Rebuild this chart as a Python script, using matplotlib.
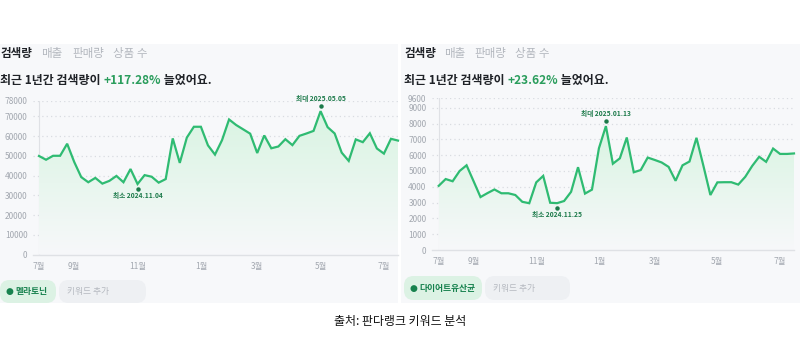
import numpy as np
import matplotlib
matplotlib.use("Agg")
import matplotlib.pyplot as plt
import matplotlib.transforms as mtransforms
from matplotlib.patches import Rectangle, FancyBboxPatch
from matplotlib.colors import LinearSegmentedColormap

plt.rcParams['font.family'] = ['Noto Sans CJK KR', 'DejaVu Sans']

# ---------------- data ----------------
month_labels = ["7월", "9월", "11월", "1월", "3월", "5월", "7월"]
month_tick_idx = [0, 5, 14, 23, 31, 40, 49]   # weekly index (week 0 = 2024-07-29)

left_values = [50000, 48100, 50100, 50100, 56200, 47000, 39300, 36700, 38900, 36000,
               37400, 39900, 36700, 43400, 35800, 40300, 39500, 36500, 38300, 58900,
               46500, 59300, 64800, 64800, 55400, 50700, 58000, 68500, 65700, 63500,
               61300, 51500, 60400, 53900, 54800, 58500, 55500, 60200, 61400, 62700,
               72700, 64600, 61400, 51700, 47500, 58400, 57000, 61500, 53800, 51200,
               58700, 57800]
right_values = [4060, 4490, 4350, 5000, 5360, 4360, 3350, 3600, 3830, 3590,
                3590, 3480, 3050, 2960, 4280, 4690, 2990, 2965, 3100, 3680,
                5240, 3570, 3820, 6440, 7840, 5460, 5800, 7120, 4920, 5060,
                5850, 5700, 5540, 5260, 4380, 5360, 5600, 7100, 5320, 3480,
                4280, 4290, 4290, 4140, 4630, 5320, 5900, 5580, 6420, 6080,
                6080, 6110]
left_yticks = [0, 10000, 20000, 30000, 40000, 50000, 60000, 70000, 78000]
right_yticks = [0, 1000, 2000, 3000, 4000, 5000, 6000, 7000, 8000, 9000, 9600]
left_max = (40, "최대 2025.05.05")
left_min = (14, "최소 2024.11.04")
right_max = (24, "최대 2025.01.13")
right_min = (17, "최소 2024.11.25")
left_keyword = "멜라토닌"
right_keyword = "다이어트유산균"
left_growth = "+117.28%"
right_growth = "+23.62%"
tabs = ["검색량", "매출", "판매량", "상품 수"]
caption = "출처: 판다랭크 키워드 분석"

# ---------------- style ----------------
W, H = 800, 350
BG = "#f7f8fa"
LINE = "#2fbb72"
DARKG = "#1c7a4a"
GRID = "#d9dce1"
TICK = "#a3a8b0"

fig = plt.figure(figsize=(W / 100, H / 100), dpi=100)
fig.patch.set_facecolor("white")


def fx(px):
    return px / W


def fy(py):
    return 1 - py / H


# panels
for x0, x1 in [(0, 398), (401, 800)]:
    fig.patches.append(Rectangle((fx(x0), fy(303)), fx(x1 - x0), (303 - 44) / H,
                                 transform=fig.transFigure, facecolor=BG,
                                 edgecolor="none", zorder=-5))


def seq_text(x_px, y_px, pieces, size, weight="bold"):
    renderer = fig.canvas.get_renderer()
    x = fx(x_px)
    for s, col in pieces:
        t = fig.text(x, fy(y_px), s, fontsize=size, color=col, weight=weight,
                     va="center", ha="left")
        bb = t.get_window_extent(renderer=renderer)
        x = (bb.x1) / W


def header(x0, tab_x, growth):
    for i, (t, tx) in enumerate(zip(tabs, tab_x)):
        fig.text(fx(tx), fy(54), t, fontsize=8.3,
                 color="#1f2227" if i == 0 else "#b3b7be",
                 weight="bold" if i == 0 else "normal", va="center", ha="left")
    seq_text(x0, 80.5, [("최근 1년간 검색량이 ", "#1f2227"), (growth, "#2a9d5c"),
                        (" 늘었어요.", "#1f2227")], 8.6)


header(0, [0, 41, 72, 113], left_growth)
header(404, [404, 444, 474, 515], right_growth)

cmap = LinearSegmentedColormap.from_list("g", ["#f7f8fa", "#d9f4e2"])


def chart(left_px, right_px, top_px, bot_px, vals, yticks, ymax, mx, mn, x0_px):
    n = len(vals)
    ax = fig.add_axes([fx(left_px), fy(bot_px), fx(right_px - left_px),
                       (bot_px - top_px) / H])
    ax.set_facecolor("none")
    step = (right_px - x0_px) / (n - 1)
    xl = -(x0_px - left_px) / step
    xs = np.arange(n)
    # gradient fill
    poly = ax.fill_between(xs, vals, 0, color="none", lw=0)
    grad = np.linspace(0, 1, 200).reshape(-1, 1)
    im = ax.imshow(grad, cmap=cmap, aspect="auto", origin="lower",
                   extent=[0, n - 1, 0, max(vals)], zorder=1)
    im.set_clip_path(poly.get_paths()[0], transform=ax.transData)
    ax.set_xlim(xl, n - 1)
    ax.set_ylim(0, ymax)
    ax.plot(xs, vals, color=LINE, lw=1.6, zorder=3, solid_joinstyle="miter",
            clip_on=False)
    for y in yticks[1:]:
        ax.axhline(y, color=GRID, lw=0.9, ls=(0, (1, 2.5)), zorder=0.5)
    ax.axvline(0, color="#dfe1e5", lw=0.8, zorder=0.6)
    for s in ["top", "right", "left"]:
        ax.spines[s].set_visible(False)
    ax.spines["bottom"].set_color("#dfe1e5")
    ax.spines["bottom"].set_linewidth(1.0)
    ax.set_yticks(yticks)
    ax.set_yticklabels([str(v) for v in yticks], fontsize=6.0, color=TICK)
    ax.set_xticks(month_tick_idx)
    ax.set_xticklabels(month_labels, fontsize=6.0, color=TICK)
    ax.tick_params(length=0, pad=4)
    ax.tick_params(axis="x", pad=5)
    # annotations
    i, lab = mx
    ax.plot([i], [vals[i]], marker="o", ms=2.2, color=DARKG, zorder=4,
            transform=ax.transData + mtransforms.ScaledTranslation(0, 5.5 / 100, fig.dpi_scale_trans))
    ax.annotate(lab, (i, vals[i]), xytext=(0, 6.3), textcoords="offset points",
                ha="center", va="bottom", fontsize=4.8, color=DARKG, weight="bold",
                zorder=5)
    i, lab = mn
    ax.plot([i], [vals[i]], marker="o", ms=2.2, color=DARKG, zorder=4,
            transform=ax.transData + mtransforms.ScaledTranslation(0, -5 / 100, fig.dpi_scale_trans))
    ax.annotate(lab, (i, vals[i]), xytext=(0, -6), textcoords="offset points",
                ha="center", va="top", fontsize=4.8, color=DARKG, weight="bold",
                zorder=5)
    return ax


chart(33, 398, 100.7, 254.7, left_values, left_yticks, 78000, left_max, left_min, 39)
chart(432, 794, 98.3, 250, right_values, right_yticks, 9600, right_max, right_min, 438.7)


def chip(x0, x1, y0, y1, color):
    fig.patches.append(FancyBboxPatch((fx(x0), fy(y1)), fx(x1 - x0), (y1 - y0) / H,
                                      boxstyle="round,pad=0,rounding_size=0.012",
                                      transform=fig.transFigure, facecolor=color,
                                      edgecolor="none", zorder=1,
                                      mutation_aspect=W / H))


def chips(gx0, gx1, ax0, ax1, y0, y1, kw):
    chip(gx0, gx1, y0, y1, "#dcf2e4")
    chip(ax0, ax1, y0, y1, "#eef0f3")
    yc = fy((y0 + y1) / 2)
    fig.text(fx(gx0 + 5), yc, "●", fontsize=6.5, color="#17824e", va="center",
             ha="left", family=["DejaVu Sans"])
    fig.text(fx(gx0 + 15), yc, kw, fontsize=6.3, color="#17824e", weight="bold",
             va="center", ha="left")
    fig.text(fx(ax0 + 8), yc, "키워드 추가", fontsize=6.3, color="#b5b9c0",
             va="center", ha="left")


chips(0, 56, 59, 146, 280, 303, left_keyword)
chips(404, 482, 485, 570, 276, 300, right_keyword)

fig.text(0.5, fy(322), caption, fontsize=8.6, color="#111111", ha="center",
         va="center")

fig.savefig("out.png", dpi=100, facecolor="white")
